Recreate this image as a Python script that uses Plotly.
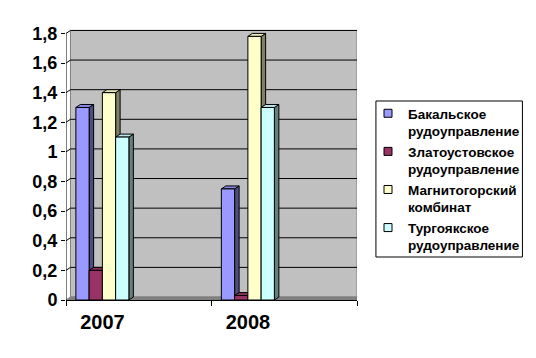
import plotly.graph_objects as go

years = ["2007", "2008"]
series_names = [
    "Бакальское<br>рудоуправление",
    "Златоустовское<br>рудоуправление",
    "Магнитогорский<br>комбинат",
    "Тургоякское<br>рудоуправление",
]
bakal = [1.3, 0.75]
zlatoust = [0.2, 0.03]
magnit = [1.4, 1.78]
turgoyak = [1.1, 1.3]
y_tick_vals = [0, 0.2, 0.4, 0.6, 0.8, 1.0, 1.2, 1.4, 1.6, 1.8]
y_tick_text = ["0", "0,2", "0,4", "0,6", "0,8", "1", "1,2", "1,4", "1,6", "1,8"]

front_colors = ["#9999FF", "#993366", "#FFFFCC", "#CCFFFF"]
side_colors = ["#4D4D80", "#4D1A33", "#808066", "#668080"]
top_colors = ["#8585E6", "#8A2E5C", "#E6E6B8", "#B8E6E6"]

values = [bakal, zlatoust, magnit, turgoyak]

PAGE = 8  # default body margin of the html page
W, H = 536 - PAGE, 358 - PAGE
ml, mr, mt, mb = 66 - PAGE, 178, 29 - PAGE, 58
PL, PR, PT, PB = 66, 358, 29, 300  # plot area in page pixels
XMIN, XMAX = -0.5, 1.5
YMAX_AX = 1.83
YTOP = 1.8
px_x = (PR - PL) / (XMAX - XMIN)
px_y = (PB - PT) / YMAX_AX
dx = 4.5 / px_x
dy = 3.0 / px_y
bw = 13.3 / px_x
shift = -0.25

centers = [i + shift for i in range(len(years))]

fig = go.Figure()
shapes = []

# back wall + floor
shapes.append(dict(type="rect", xref="x", yref="y", x0=XMIN + dx, x1=XMAX, y0=dy, y1=YTOP + dy,
                   fillcolor="#C0C0C0", line=dict(color="#808080", width=1), layer="below"))
shapes.append(dict(type="path", xref="x", yref="y",
                   path=f"M{XMIN},0 L{XMIN+dx},{dy} L{XMAX},{dy} L{XMAX},0 Z",
                   fillcolor="#808080", line=dict(color="#808080", width=1), layer="below"))
# gridlines on the wall
for v in y_tick_vals[1:]:
    shapes.append(dict(type="line", xref="x", yref="y", x0=XMIN + dx, x1=XMAX, y0=v + dy, y1=v + dy,
                       line=dict(color="black", width=1), layer="below"))
    shapes.append(dict(type="line", xref="x", yref="y", x0=XMIN, x1=XMIN + dx, y0=v, y1=v + dy,
                       line=dict(color="black", width=1), layer="below"))

for k, (name, vals) in enumerate(zip(series_names, values)):
    off = -2 * bw + k * bw
    fig.add_trace(go.Bar(
        x=centers, y=vals, width=bw, offset=off, name=name, showlegend=False,
        marker=dict(color=front_colors[k], line=dict(color="black", width=1)),
    ))
    fig.add_trace(go.Scatter(
        x=[None], y=[None], mode="markers", name=name,
        marker=dict(symbol="square", size=8, color=front_colors[k], line=dict(color="black", width=1)),
    ))
    for c, v in zip(centers, vals):
        xl = c + off
        xr = xl + bw
        shapes.append(dict(type="path", xref="x", yref="y",
                           path=f"M{xr},0 L{xr+dx},{dy} L{xr+dx},{v+dy} L{xr},{v} Z",
                           fillcolor=side_colors[k], line=dict(color="black", width=1), layer="between"))
        shapes.append(dict(type="path", xref="x", yref="y",
                           path=f"M{xl},{v} L{xl+dx},{v+dy} L{xr+dx},{v+dy} L{xr},{v} Z",
                           fillcolor=top_colors[k], line=dict(color="black", width=1), layer="between"))

# y axis line
shapes.append(dict(type="line", xref="x", yref="y", x0=XMIN, x1=XMIN, y0=0, y1=YTOP,
                   line=dict(color="black", width=1), layer="above"))


def pxx(p):
    return (p - PL) / (PR - PL)


def pxy(p):
    return (PB - p) / (PB - PT)


# legend border (paper coords)
shapes.append(dict(type="rect", xref="paper", yref="paper", x0=pxx(377), x1=pxx(524), y0=pxy(257), y1=pxy(101),
                   line=dict(color="black", width=1), fillcolor="rgba(0,0,0,0)"))

fig.update_layout(
    width=W, height=H,
    margin=dict(l=ml, r=mr, t=mt, b=mb),
    paper_bgcolor="white", plot_bgcolor="white",
    barmode="overlay",
    shapes=shapes,
    font=dict(family="Liberation Sans, Arial, sans-serif", color="black"),
    showlegend=True,
    legend=dict(x=pxx(368), y=pxy(98), xanchor="left", yanchor="top",
                font=dict(size=13.5, family="Liberation Sans, Arial, sans-serif", weight="bold"),
                bgcolor="rgba(0,0,0,0)", borderwidth=0, valign="top", tracegroupgap=0),
    xaxis=dict(range=[XMIN, XMAX], tickvals=centers, ticktext=years, ticks="",
               showgrid=False, zeroline=False, showline=True, linecolor="black", linewidth=1,
               tickfont=dict(size=20, weight="bold"), ticklabelstandoff=4,
               minor=dict(tick0=XMIN, dtick=1, ticks="outside", ticklen=5, tickcolor="black", showgrid=False)),
    yaxis=dict(range=[0, YMAX_AX], tickvals=y_tick_vals, ticktext=y_tick_text,
               ticks="outside", ticklen=4, tickcolor="black", showgrid=False, zeroline=False,
               showline=False, tickfont=dict(size=18, weight="bold")),
)

fig.write_html("out.html")
